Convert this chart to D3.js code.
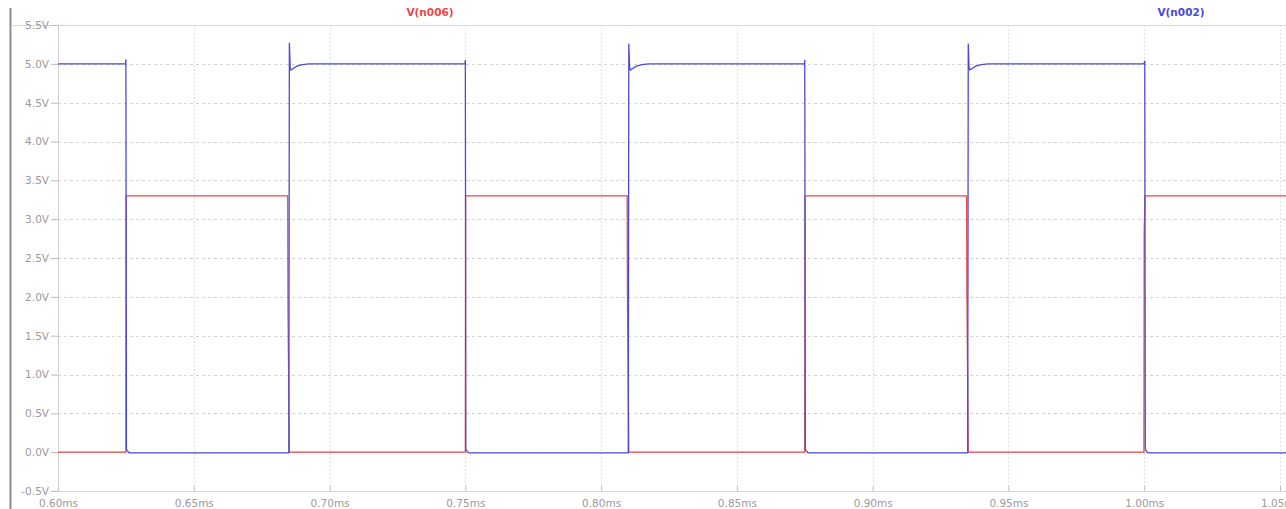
<!DOCTYPE html>
<html>
<head>
<meta charset="utf-8">
<script src="https://cdn.jsdelivr.net/npm/d3@7"></script>
<style>
  html, body { margin: 0; padding: 0; background: #ffffff; }
  svg { display: block; }
</style>
</head>
<body>
<svg id="chart" width="1286" height="509"></svg>
<script>
// Transient waveforms (time in ms, voltage in V)
const timeTicks = [0.60, 0.65, 0.70, 0.75, 0.80, 0.85, 0.90, 0.95, 1.00, 1.05];
const timeTickLabels = ["0.60ms", "0.65ms", "0.70ms", "0.75ms", "0.80ms", "0.85ms", "0.90ms", "0.95ms", "1.00ms", "1.05ms"];
const voltTicks = [5.5, 5.0, 4.5, 4.0, 3.5, 3.0, 2.5, 2.0, 1.5, 1.0, 0.5, 0.0, -0.5];
const voltTickLabels = ["5.5V", "5.0V", "4.5V", "4.0V", "3.5V", "3.0V", "2.5V", "2.0V", "1.5V", "1.0V", "0.5V", "0.0V", "-0.5V"];

// V(n006)
const n006Time = [0.600, 0.6250, 0.6251, 0.6846, 0.6847, 0.6852, 0.7500, 0.7501, 0.8096, 0.8097, 0.8102,
                  0.8750, 0.8751, 0.9346, 0.9347, 0.9352, 0.9999, 1.0000, 1.0003, 1.0600];
const n006Volt = [0.00, 0.00, 3.30, 3.30, 1.85, 0.00, 0.00, 3.30, 3.30, 2.02, 0.00,
                  0.00, 3.30, 3.30, 2.09, 0.00, 0.00, 2.85, 3.30, 3.30];

// V(n002)
const n002Time = [0.600, 0.6249, 0.6250, 0.6252, 0.6255, 0.6262,
                  0.6850, 0.6852, 0.6855, 0.6858, 0.6866, 0.6880, 0.6900, 0.6925,
                  0.7499, 0.7500, 0.7502, 0.7505, 0.7512,
                  0.8100, 0.8102, 0.8105, 0.8108, 0.8116, 0.8130, 0.8150, 0.8175,
                  0.8749, 0.8750, 0.8752, 0.8755, 0.8762,
                  0.9350, 0.9352, 0.9355, 0.9358, 0.9366, 0.9380, 0.9400, 0.9425,
                  0.9999, 1.0002, 1.0004, 1.0007, 1.0014, 1.0600];
const n002Volt = [5.00, 5.00, 5.06, 0.04, 0.02, -0.01,
                  -0.01, 5.27, 4.95, 4.92, 4.94, 4.97, 4.99, 5.00,
                  5.00, 5.05, 0.04, 0.02, -0.01,
                  -0.01, 5.26, 4.95, 4.92, 4.94, 4.97, 4.99, 5.00,
                  5.00, 5.05, 0.04, 0.02, -0.01,
                  -0.01, 5.26, 4.95, 4.92, 4.94, 4.97, 4.99, 5.00,
                  5.00, 5.04, 0.04, 0.02, -0.01, -0.01];

const traceNames = ["V(n006)", "V(n002)"];
const traceColors = ["#e8484a", "#4a4ad6"];

const svg = d3.select("#chart");
const W = 1286, H = 509;
const plotLeft = 58, plotTop = 25, plotBottom = 491;

const x = d3.scaleLinear().domain([0.60, 1.05]).range([plotLeft, 1280]);
const y = d3.scaleLinear().domain([-0.5, 5.5]).range([plotBottom, plotTop]);

// window frame on the left
svg.append("line")
  .attr("x1", 10.5).attr("x2", 10.5).attr("y1", 8).attr("y2", H)
  .attr("stroke", "#8c8c8c").attr("stroke-width", 2);

// top band separator
svg.append("line")
  .attr("x1", 11).attr("x2", W).attr("y1", plotTop + 0.5).attr("y2", plotTop + 0.5)
  .attr("stroke", "#d8d8d8").attr("stroke-width", 1);

const grid = svg.append("g");

// horizontal grid
grid.selectAll("line.h").data(voltTicks).join("line")
  .attr("class", "h")
  .attr("x1", plotLeft).attr("x2", W)
  .attr("y1", d => Math.round(y(d)) + 0.5).attr("y2", d => Math.round(y(d)) + 0.5)
  .attr("stroke", d => (d === 5.5 || d === -0.5) ? "#d6d6d6" : "#d2d2d2")
  .attr("stroke-dasharray", d => (d === 5.5 || d === -0.5) ? null : "3,3")
  .attr("stroke-width", 1);

// vertical grid
grid.selectAll("line.v").data(timeTicks).join("line")
  .attr("class", "v")
  .attr("y1", plotTop).attr("y2", plotBottom)
  .attr("x1", d => Math.round(x(d)) + 0.5).attr("x2", d => Math.round(x(d)) + 0.5)
  .attr("stroke", d => d === 0.60 ? "#d0d0d0" : "#d4e4ec")
  .attr("stroke-dasharray", d => d === 0.60 ? null : "2,2")
  .attr("stroke-width", 1);

// y axis
const yAxis = d3.axisLeft(y)
  .tickValues(voltTicks)
  .tickFormat((d, i) => voltTickLabels[i])
  .tickSize(7).tickPadding(2);
const gy = svg.append("g").attr("transform", `translate(${plotLeft},0)`).call(yAxis);
gy.select(".domain").remove();
gy.selectAll(".tick line").attr("stroke", "#b8b8b8");
gy.selectAll(".tick text")
  .attr("fill", "#9a9a9a")
  .style("font-family", "DejaVu Sans, sans-serif")
  .style("font-size", "10.5px");

// x axis
const xAxis = d3.axisBottom(x)
  .tickValues(timeTicks)
  .tickFormat((d, i) => timeTickLabels[i])
  .tickSize(5).tickPadding(9);
const gx = svg.append("g").attr("transform", `translate(0,${plotBottom - 5})`).call(xAxis);
gx.select(".domain").remove();
gx.selectAll(".tick line").attr("stroke", "#c0c0c0");
gx.selectAll(".tick text")
  .attr("fill", "#9a9a9a")
  .style("font-family", "DejaVu Sans, sans-serif")
  .style("font-size", "10.5px");

// traces
const clip = svg.append("clipPath").attr("id", "plotclip")
  .append("rect").attr("x", plotLeft).attr("y", 0).attr("width", W - plotLeft).attr("height", plotBottom);

const line = d3.line().x(d => x(d[0])).y(d => y(d[1]));
const n006 = n006Time.map((t, i) => [t, n006Volt[i]]);
const n002 = n002Time.map((t, i) => [t, n002Volt[i]]);

const traces = svg.append("g").attr("clip-path", "url(#plotclip)");
traces.append("path").datum(n006)
  .attr("d", line).attr("fill", "none")
  .attr("stroke", traceColors[0]).attr("stroke-width", 1.3);
traces.append("path").datum(n002)
  .attr("d", line).attr("fill", "none")
  .attr("stroke", traceColors[1]).attr("stroke-width", 1.3);

// trace labels
svg.append("text")
  .attr("x", 430).attr("y", 16).attr("text-anchor", "middle")
  .attr("fill", traceColors[0])
  .style("font-family", "DejaVu Sans, sans-serif").style("font-size", "10.5px").style("font-weight", "bold")
  .text(traceNames[0]);
svg.append("text")
  .attr("x", 1181).attr("y", 16).attr("text-anchor", "middle")
  .attr("fill", traceColors[1])
  .style("font-family", "DejaVu Sans, sans-serif").style("font-size", "10.5px").style("font-weight", "bold")
  .text(traceNames[1]);
</script>
</body>
</html>
